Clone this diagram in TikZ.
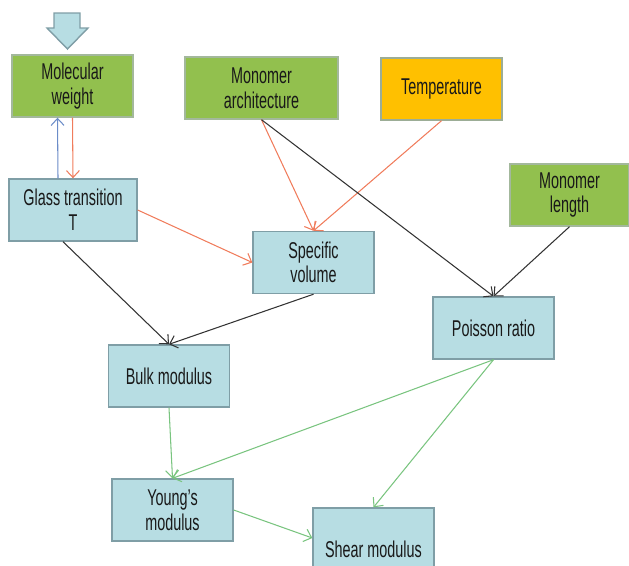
\documentclass[tikz,border=0pt]{standalone}
\usepackage{fontspec}
\setmainfont{Liberation Sans}[FakeStretch=0.63]
\usetikzlibrary{arrows.meta,positioning}

\definecolor{boxblue}{HTML}{B7DDE3}
\definecolor{boxline}{HTML}{7F9EA6}
\definecolor{leafgreen}{HTML}{92C04E}
\definecolor{leafline}{HTML}{A3B89C}
\definecolor{amber}{HTML}{FFC000}
\definecolor{redline}{HTML}{F07C5C}
\definecolor{greenline}{HTML}{79C47F}
\definecolor{blueline}{HTML}{6B8CC8}
\definecolor{darkline}{HTML}{333333}

\begin{document}
\begin{tikzpicture}[x=0.02cm,y=-0.02cm,>={Straight Barb[length=1.4mm,width=2.6mm]}]
        \tikzset{block/.style= {draw=boxline, fill=boxblue, line width=0.8pt, rectangle, align=center, inner sep=0pt,
                 minimum width=2.42cm, minimum height=1.24cm, font=\fontsize{13}{14}\selectfont, text=black!90},
        gblock/.style= {block, draw=leafline, fill=leafgreen},
        oblock/.style= {block, draw=leafline!80!gray, fill=amber},
        link/.style={every edge/.style={draw=#1, line width=0.6pt, ->}},
        bigarrow/.style={draw=boxline, fill=boxblue, line width=0.8pt}
        }

        \useasboundingbox (0,0) rectangle (629,565);

        \draw[bigarrow] (54,13) -- (80,13) -- (80,28) -- (88,28) -- (67.5,49) -- (47,28) -- (54,28) -- cycle;

        \node [gblock] (mw) at (72.5,86) {Molecular\\weight};
        \node [gblock, minimum width=3.06cm] (ma) at (261.5,88) {Monomer\\architecture};
        \node [oblock] (temp) at (441.5,89) {Temperature};
        \node [block, minimum width=2.56cm] (gt) at (73,210) {Glass transition\\T};
        \node [gblock, minimum width=2.38cm] (ml) at (569.5,195) {Monomer\\length};
        \node [block] (sv) at (313.5,262.5) {Specific\\volume};
        \node [block] (pr) at (493.5,328) {Poisson ratio};
        \node [block] (bm) at (169,376) {Bulk modulus};
        \node [block] (ym) at (172.5,510) {Young's\\modulus};
        \node [block, minimum height=1.64cm] (sm) at (373.5,549) {Shear modulus};

%%% paths
        \path[link=redline] (mw.south) edge (gt.north)
                    (gt.east) edge (sv.west)
                    (ma.south) edge (sv.north)
                    (temp.south) edge (sv.north)
                    ;
        \path[link=blueline] ([xshift=-0.3cm]gt.north) edge ([xshift=-0.3cm]mw.south);
        \path[link=darkline] (ma.south) edge (pr.north)
                    (ml.south) edge (pr.north)
                    ([xshift=-0.2cm]gt.south) edge (bm.north)
                    (sv.south) edge (bm.north)
                    ;
        \path[link=greenline] (bm.south) edge (ym.north)
                    (pr.south) edge (ym.north)
                    (pr.south) edge (sm.north)
                    (ym.east) edge ([yshift=0.22cm]sm.west)
                    ;
    \end{tikzpicture}
\end{document}
